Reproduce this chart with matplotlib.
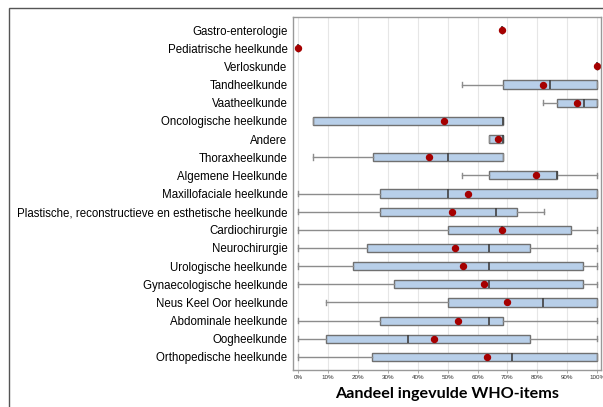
import matplotlib.pyplot as plt
from matplotlib.patches import Rectangle

plt.rcParams['font.family'] = ['Liberation Sans', 'DejaVu Sans']

# categories, top to bottom
categories = ['Gastro-enterologie', 'Pediatrische heelkunde', 'Verloskunde', 'Tandheelkunde',
              'Vaatheelkunde', 'Oncologische heelkunde', 'Andere', 'Thoraxheelkunde',
              'Algemene Heelkunde', 'Maxillofaciale heelkunde',
              'Plastische, reconstructieve en esthetische heelkunde', 'Cardiochirurgie',
              'Neurochirurgie', 'Urologische heelkunde', 'Gynaecologische heelkunde',
              'Neus Keel Oor heelkunde', 'Abdominale heelkunde', 'Oogheelkunde',
              'Orthopedische heelkunde']

# box statistics (% WHO-items ingevuld)
whislo = [68.3, 0, 100, 54.7, 82.0, 4.9, 63.9, 4.9, 54.7, 0, 0, 0, 0, 0, 0, 9.4, 0, 0, 0]
q1 = [68.3, 0, 100, 68.5, 86.5, 4.9, 63.9, 25.0, 63.9, 27.5, 27.5, 50.2, 23.1, 18.3, 32.2, 50.2, 27.5, 9.4, 24.8]
med = [68.3, 0, 100, 84.3, 95.5, 68.5, 68.5, 50.2, 86.5, 50.2, 66.1, 68.3, 63.9, 63.9, 63.9, 82.0, 63.9, 36.7, 71.6]
q3 = [68.3, 0, 100, 100, 100, 68.5, 68.5, 68.5, 86.5, 100, 73.1, 91.2, 77.6, 95.4, 95.4, 100, 68.5, 77.6, 100]
whishi = [68.3, 0, 100, 100, 100, 68.5, 68.5, 68.5, 100, 100, 82.2, 100, 100, 100, 100, 100, 100, 100, 100]
mean = [68.3, 0, 100, 82.0, 93.4, 48.8, 66.9, 43.9, 79.5, 56.7, 51.5, 68.3, 52.4, 55.3, 62.1, 69.8, 53.5, 45.4, 63.3]

stats = []
for i in range(len(categories)):
    stats.append({'whislo': whislo[i], 'q1': q1[i], 'med': med[i], 'q3': q3[i],
                  'whishi': whishi[i], 'mean': mean[i], 'label': categories[i]})

fig = plt.figure(figsize=(6.03, 4.07), dpi=100)
ax = fig.add_axes([293 / 603, 1 - 370 / 407, 308 / 603, 353 / 407])

# outer frame of the screenshot
fig.patches.append(Rectangle((9 / 603, -0.1), 1.2, 1 - 8 / 407 + 0.1, transform=fig.transFigure,
                             fill=False, edgecolor='#555555', linewidth=1.0))

gray = '#8c8c8c'
ax.bxp(stats, positions=range(len(categories)), orientation='horizontal', widths=0.45,
       patch_artist=True, showmeans=True, showfliers=False, capwidths=0.3,
       boxprops=dict(facecolor='#b8cfe9', edgecolor='#707070', linewidth=1.0),
       medianprops=dict(color='#404040', linewidth=1.2),
       whiskerprops=dict(color=gray, linewidth=1.0),
       capprops=dict(color=gray, linewidth=1.0),
       meanprops=dict(marker='o', markerfacecolor='#a50000', markeredgecolor='#a50000', markersize=4.3))

ax.set_ylim(18.72, -0.72)
ax.set_xlim(-1.7, 101.3)
ax.set_xticks(range(0, 101, 10))
ax.set_xticklabels([f'{v}%' for v in range(0, 101, 10)], fontsize=4.5, color='#333333')
ax.set_yticks(range(len(categories)))
ax.set_yticklabels(categories, fontsize=8.3)
ax.tick_params(axis='y', length=0, pad=4)
ax.tick_params(axis='x', length=2, width=0.5, color=gray, pad=1.5)
ax.xaxis.grid(True, color='#e6e6e6', linewidth=0.8)
ax.set_axisbelow(True)
for s in ax.spines.values():
    s.set_color('#999999')
    s.set_linewidth(1.0)

ax.set_xlabel('Aandeel ingevulde WHO-items', fontsize=11.6, fontweight='bold', labelpad=5,
              family=['Lato', 'DejaVu Sans'])

fig.savefig('out.png', dpi=100)
